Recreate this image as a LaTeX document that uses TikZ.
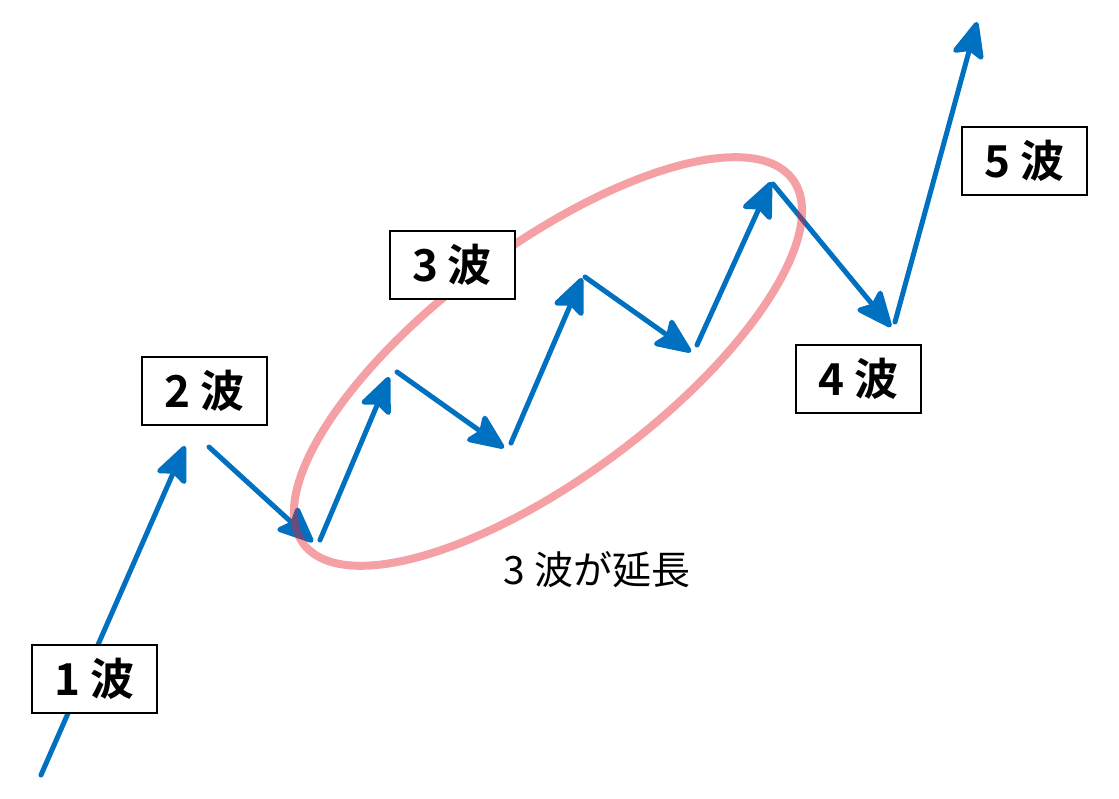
\documentclass[tikz,border=0pt]{standalone}
\usepackage{fontspec}
\setmainfont{Noto Sans CJK JP}
\newfontfamily\jpbold{Noto Sans CJK JP Bold}
\usetikzlibrary{arrows.meta}
\definecolor{wavblue}{RGB}{0,112,192}
\definecolor{ovalred}{RGB}{232,35,46}
\begin{document}
\begin{tikzpicture}[x=1pt,y=-1pt,
  wave/.style={draw=wavblue, line width=5pt, line cap=round,
    -{Stealth[length=41pt,width=35pt,inset=7pt,round=false]}},
  wavebox/.style={draw=black, line width=2pt, fill=white, minimum width=125pt,
    minimum height=68pt, inner sep=0pt, font=\jpbold\fontsize{44}{50}\selectfont},
  note/.style={font=\fontsize{39}{46}\selectfont, inner sep=0pt}]
\useasboundingbox (0,0) rectangle (1119,799);
% wave points
\coordinate (a1s) at (41,775);  \coordinate (a1e) at (185,446);
\coordinate (a2s) at (209,447); \coordinate (a2e) at (313,542);
\coordinate (b1s) at (320,540); \coordinate (b1e) at (389,377);
\coordinate (b2s) at (397,372); \coordinate (b2e) at (504,448);
\coordinate (b3s) at (511,443); \coordinate (b3e) at (582,278);
\coordinate (b4s) at (585,277); \coordinate (b4e) at (691,352);
\coordinate (b5s) at (697,345); \coordinate (b5e) at (771,182);
\coordinate (a4s) at (773,184); \coordinate (a4e) at (891,327);
\coordinate (a5s) at (895,322); \coordinate (a5e) at (977,22);
\coordinate (oc) at (548,361.5);
% arrows
\draw[wave] (a1s) -- (a1e);
\draw[wave] (a2s) -- (a2e);
\draw[wave] (b1s) -- (b1e);
\draw[wave] (b2s) -- (b2e);
\draw[wave] (b3s) -- (b3e);
\draw[wave] (b4s) -- (b4e);
\draw[wave] (b5s) -- (b5e);
\draw[wave] (a4s) -- (a4e);
\draw[wave] (a5s) -- (a5e);
% oval
\draw[ovalred, draw opacity=0.43, line width=8pt, rotate around={36.7:(oc)}]
  (oc) ellipse [x radius=305pt, y radius=115pt];
% boxes
\node[wavebox] (w1) at (94.5,679) {1 波};
\node[wavebox] (w2) at (204.5,391) {2 波};
\node[wavebox] (w3) at (452,265) {3 波};
\node[wavebox] (w4) at (858.5,379) {4 波};
\node[wavebox] (w5) at (1024.5,161) {5 波};
\node[note] (ext) at (597,570) {3 波が延長};
\end{tikzpicture}
\end{document}
